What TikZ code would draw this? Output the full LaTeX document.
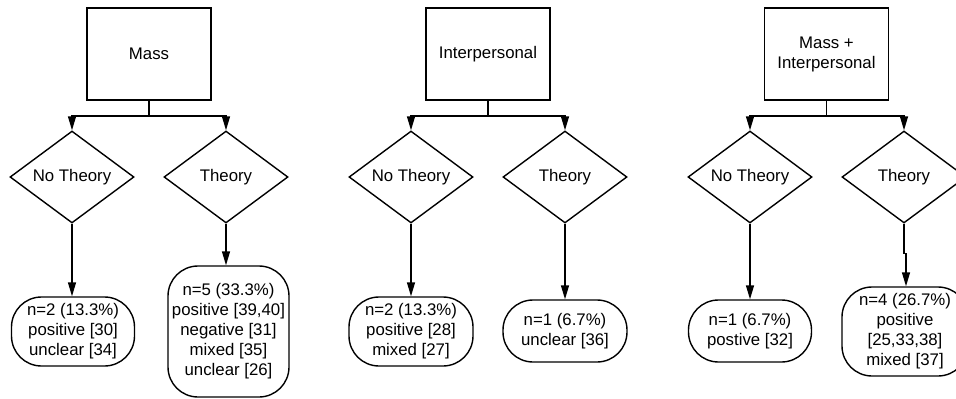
\documentclass[tikz,border=0pt]{standalone}
\usepackage{fontspec}
\setmainfont{Liberation Sans}
\usetikzlibrary{shapes.geometric,arrows.meta}
\tikzset{
  base/.style={draw, line width=1.4pt, inner sep=0pt, align=center, font=\fontsize{16.8}{20}\selectfont},
  topbox/.style={base, rectangle, minimum width=124pt, minimum height=92pt},
  choice/.style={base, diamond, shape aspect=1.35, minimum width=124pt, minimum height=92pt},
  result/.style={base, rectangle, rounded corners=30pt},
  arr/.style={line width=1.4pt, -{Triangle[length=14pt,width=8pt]}},
}
\begin{document}
\begin{tikzpicture}[x=1pt,y=-1pt]
\useasboundingbox (0,0) rectangle (956,399);
\clip (0,0) rectangle (956,399);
% Panel 1
\node[topbox] (m1) at (149,54) {Mass};
\node[choice] (d1a) at (72,177) {No Theory};
\node[choice] (d1b) at (226,177) {Theory};
\node[result, minimum width=123pt, minimum height=69pt] (r1a) at (73,331.5) {n=2 (13.3\%)\\positive [30]\\unclear [34]};
\node[result, minimum width=121pt, minimum height=131pt] (r1b) at (228.5,331.5) {n=5 (33.3\%)\\positive [39,40]\\negative [31]\\mixed [35]\\unclear [26]};
\draw[arr] (m1.south) -- (m1.south |- 0,116) -| (d1a.north);
\draw[arr] (m1.south) -- (m1.south |- 0,116) -| (d1b.north);
\draw[arr] (d1a.south) -- (d1a.south |- r1a.north);
\draw[arr] (d1b.south) -- (d1b.south |- r1b.north);
% Panel 2
\node[topbox] (m2) at (488,54) {Interpersonal};
\node[choice] (d2a) at (411,177) {No Theory};
\node[choice] (d2b) at (565,177) {Theory};
\node[result, minimum width=124pt, minimum height=69pt] (r2a) at (411,331.5) {n=2 (13.3\%)\\positive [28]\\mixed [27]};
\node[result, minimum width=124pt, minimum height=62pt] (r2b) at (565,331) {n=1 (6.7\%)\\unclear [36]};
\draw[arr] (m2.south) -- (m2.south |- 0,116) -| (d2a.north);
\draw[arr] (m2.south) -- (m2.south |- 0,116) -| (d2b.north);
\draw[arr] (d2a.south) -- (r2a.north);
\draw[arr] (d2b.south) -- (r2b.north);
% Panel 3
\node[topbox] (m3) at (826.5,54) {Mass +\\Interpersonal};
\node[choice] (d3a) at (750,177) {No Theory};
\node[choice] (d3b) at (904,177) {Theory};
\node[result, minimum width=123pt, minimum height=62pt] (r3a) at (750,331) {n=1 (6.7\%)\\postive [32]};
\node[result, minimum width=126pt, minimum height=89pt] (r3b) at (905,331.5) {n=4 (26.7\%)\\positive\\[0pt][25,33,38]\\mixed [37]};
\draw[arr] (m3.south) -- (m3.south |- 0,116) -| (d3a.north);
\draw[arr] (m3.south) -- (m3.south |- 0,116) -| (d3b.north);
\draw[arr] (d3a.south) -- (r3a.north);
\draw[arr] (d3b.south) -- ++(0,30) -| ([xshift=1pt]r3b.north);
\end{tikzpicture}
\end{document}
